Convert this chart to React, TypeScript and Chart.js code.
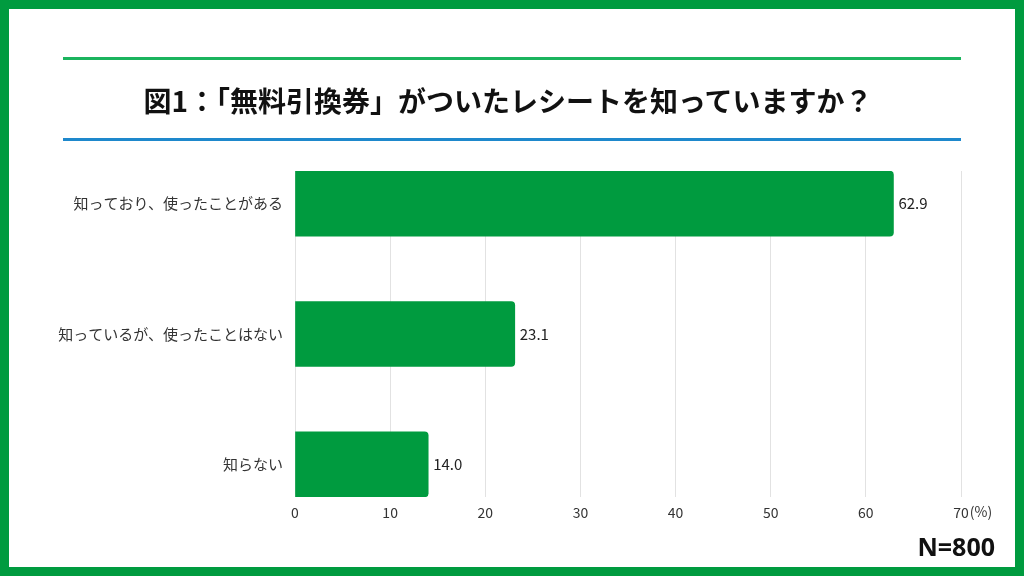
import React, { useEffect, useRef } from "react";
import { Chart, registerables } from "chart.js";

Chart.register(...registerables);

const title = "図1：「無料引換券」がついたレシートを知っていますか？";
const categories = ["知っており、使ったことがある", "知っているが、使ったことはない", "知らない"];
const values = [62.9, 23.1, 14.0];
const xTicks = [0, 10, 20, 30, 40, 50, 60, 70];
const sampleNote = "N=800";
const unitLabel = "(%)";

const GREEN = "#009B3F";
const FONT = "'Noto Sans CJK JP', 'Noto Sans', sans-serif";

export default function App() {
  const ref = useRef<HTMLCanvasElement | null>(null);

  useEffect(() => {
    if (!ref.current) return;
    const labelPlugin = {
      id: "valueLabels",
      afterDatasetsDraw(chart: any) {
        const ctx = chart.ctx;
        const meta = chart.getDatasetMeta(0);
        ctx.save();
        ctx.font = `15px ${FONT}`;
        ctx.fillStyle = "#222";
        ctx.textAlign = "left";
        ctx.textBaseline = "middle";
        meta.data.forEach((el: any, i: number) => {
          ctx.fillText(values[i].toFixed(1), el.x + 5, el.y);
        });
        const xs = chart.scales.x;
        const px = xs.getPixelForValue(xTicks[xTicks.length - 1]);
        ctx.font = `14px ${FONT}`;
        ctx.fillStyle = "#333";
        const w = ctx.measureText(String(xTicks[xTicks.length - 1])).width;
        ctx.fillText(unitLabel, px + w / 2 + 1, chart.chartArea.bottom + 15);
        ctx.restore();
      },
    };

    const chart = new Chart(ref.current, {
      type: "bar",
      data: {
        datasets: [
          {
            data: values.map((v, i) => ({ x: v, y: i })),
            backgroundColor: GREEN,
            borderWidth: 0,
            borderRadius: 4,
            borderSkipped: "start",
            barThickness: 65,
          },
        ],
      },
      options: {
        indexAxis: "y",
        responsive: false,
        animation: false,
        layout: { padding: { top: 171, right: 63, bottom: 49, left: 0 } },
        plugins: { legend: { display: false }, tooltip: { enabled: false } },
        scales: {
          x: {
            type: "linear",
            min: 0,
            max: 70,
            afterBuildTicks: (s: any) => {
              s.ticks = xTicks.map((v) => ({ value: v }));
            },
            afterFit: (s: any) => {
              s.height = 30;
            },
            grid: { color: "#e2e2e2", lineWidth: 1, drawTicks: false },
            border: { display: false },
            ticks: {
              padding: 7,
              color: "#333",
              font: { family: FONT, size: 14 },
              maxRotation: 0,
            },
          },
          y: {
            type: "linear",
            reverse: true,
            offset: false,
            min: -0.25,
            max: 2.25,
            afterBuildTicks: (s: any) => {
              s.ticks = categories.map((_, i) => ({ value: i }));
            },
            afterFit: (s: any) => {
              s.width = 295;
            },
            grid: { display: false, drawTicks: false, offset: false },
            border: { display: false },
            ticks: {
              padding: 12,
              color: "#333",
              font: { family: FONT, size: 15 },
              callback: (v: any) => categories[v] ?? "",
            },
          },
        },
      },
      plugins: [labelPlugin],
    } as any);
    return () => chart.destroy();
  }, []);

  return (
    <div
      style={{
        position: "fixed",
        left: 0,
        top: 0,
        width: 1024,
        height: 576,
        background: "#fff",
        overflow: "hidden",
        fontFamily: FONT,
      }}
    >
      <canvas ref={ref} width={1024} height={576} style={{ position: "absolute", left: 0, top: 0 }} />
      <div
        style={{
          position: "absolute",
          left: 0,
          top: 0,
          width: 1024,
          height: 576,
          boxSizing: "border-box",
          border: `9px solid ${GREEN}`,
          pointerEvents: "none",
        }}
      />
      <div style={{ position: "absolute", left: 63, top: 57, width: 898, height: 3, background: "#1BB45E" }} />
      <div style={{ position: "absolute", left: 63, top: 138, width: 898, height: 3, background: "#1E88CC" }} />
      <div
        style={{
          position: "absolute",
          left: 0,
          width: 1016,
          top: 80,
          height: 40,
          lineHeight: "40px",
          textAlign: "center",
          fontSize: 28,
          fontWeight: 700,
          color: "#111",
        }}
      >
        {title}
      </div>
      <div
        style={{
          position: "absolute",
          right: 29,
          top: 530,
          height: 32,
          lineHeight: "32px",
          fontSize: 25,
          fontWeight: 700,
          color: "#111",
          fontFamily: "'Noto Sans', sans-serif",
        }}
      >
        {sampleNote}
      </div>
    </div>
  );
}
